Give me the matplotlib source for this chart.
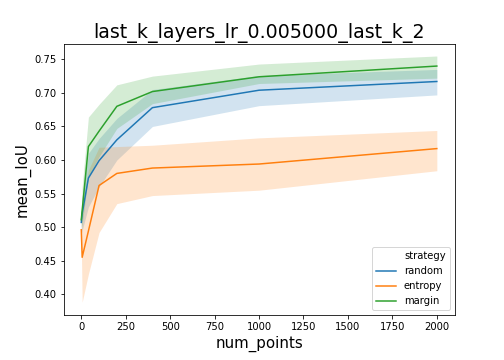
import matplotlib
matplotlib.use("Agg")
import matplotlib.pyplot as plt
from matplotlib.lines import Line2D

num_points = [0, 5, 40, 100, 200, 400, 1000, 2000]

random_mean = [0.507, 0.520, 0.573, 0.599, 0.630, 0.678, 0.704, 0.717]
random_low = [0.490, 0.495, 0.530, 0.560, 0.600, 0.650, 0.681, 0.697]
random_high = [0.525, 0.545, 0.610, 0.632, 0.662, 0.705, 0.726, 0.735]

entropy_mean = [0.496, 0.455, 0.494, 0.562, 0.580, 0.588, 0.594, 0.617]
entropy_low = [0.478, 0.388, 0.430, 0.492, 0.535, 0.547, 0.555, 0.584]
entropy_high = [0.512, 0.520, 0.585, 0.619, 0.620, 0.622, 0.633, 0.644]

margin_mean = [0.511, 0.525, 0.620, 0.643, 0.680, 0.702, 0.724, 0.740]
margin_low = [0.500, 0.505, 0.575, 0.605, 0.647, 0.684, 0.714, 0.722]
margin_high = [0.522, 0.560, 0.664, 0.683, 0.712, 0.725, 0.743, 0.755]

strategies = ["random", "entropy", "margin"]
colors = ["#1f77b4", "#ff7f0e", "#2ca02c"]

series = {
    "random": (random_mean, random_low, random_high),
    "entropy": (entropy_mean, entropy_low, entropy_high),
    "margin": (margin_mean, margin_low, margin_high),
}

fig = plt.figure(figsize=(7, 5), dpi=72)
ax = fig.add_axes([0.126, 0.125, 0.776, 0.753])

handles = [Line2D([], [], linestyle="none")]
labels = ["strategy"]
for name, c in zip(strategies, colors):
    m, lo, hi = series[name]
    ax.fill_between(num_points, lo, hi, color=c, alpha=0.2, linewidth=0)
    ax.plot(num_points, m, color=c, linewidth=1.5)
    handles.append(Line2D([], [], color=c, linewidth=1.5))
    labels.append(name)

ax.set_xlim(-100, 2100)
ax.set_ylim(0.369, 0.773)
ax.set_xticks([0, 250, 500, 750, 1000, 1250, 1500, 1750, 2000])
ax.set_yticks([0.40, 0.45, 0.50, 0.55, 0.60, 0.65, 0.70, 0.75])
ax.tick_params(labelsize=10)

ax.set_title("last_k_layers_lr_0.005000_last_k_2", fontsize=19)
ax.set_xlabel("num_points", fontsize=15)
ax.set_ylabel("mean_IoU", fontsize=15)

ax.legend(handles, labels, loc="lower right", fontsize=10)

fig.savefig("out.png", dpi=72)
